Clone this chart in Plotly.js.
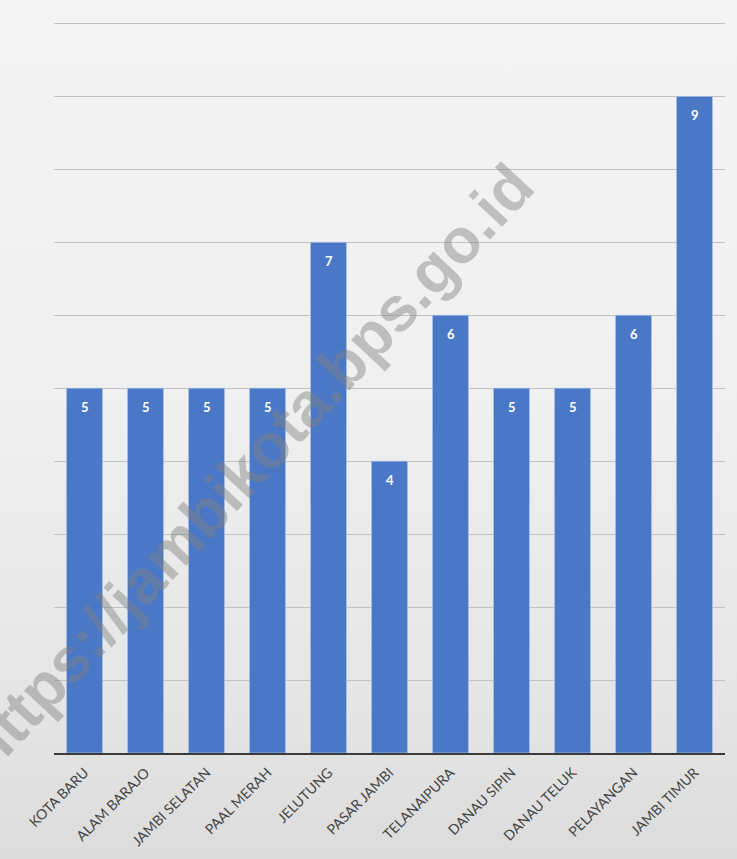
<!DOCTYPE html>
<html>
<head>
<meta charset="utf-8">
<script src="https://cdn.plot.ly/plotly-3.0.1.min.js"></script>
<style>
html,body{margin:0;padding:0;}
#chart{width:737px;height:859px;background:linear-gradient(to bottom,#f4f4f4 0%,#f0f0f0 45%,#e6e6e6 80%,#dcdcdc 100%);}
</style>
</head>
<body>
<div id="chart"></div>
<script>
const categories = ["KOTA BARU","ALAM BARAJO","JAMBI SELATAN","PAAL MERAH","JELUTUNG","PASAR JAMBI","TELANAIPURA","DANAU SIPIN","DANAU TELUK","PELAYANGAN","JAMBI TIMUR"];
const values = [5,5,5,5,7,4,6,5,5,6,9];
const watermark = "https://jambikota.bps.go.id";

const trace = {
  type: 'bar',
  x: categories,
  y: values,
  marker: {color: '#4a78c6', line: {color: 'rgba(170,195,235,0.7)', width: 1}},
  hoverinfo: 'none'
};

const valueLabels = categories.map((c, i) => ({
  x: c, y: values[i], xref: 'x', yref: 'y',
  text: String(values[i]),
  showarrow: false,
  yanchor: 'middle', yshift: -19,
  font: {family: 'Lato', size: 13, color: '#ffffff', weight: 'bold'}
}));

const layout = {
  width: 737, height: 859,
  margin: {l: 54, r: 12, t: 22, b: 106},
  paper_bgcolor: 'rgba(0,0,0,0)',
  plot_bgcolor: 'rgba(0,0,0,0)',
  bargap: 0.41,
  showlegend: false,
  xaxis: {
    type: 'category',
    tickangle: -45,
    ticklabelstandoff: 4,
    tickfont: {family: 'Lato', size: 14, color: '#454545'},
    showline: true, linecolor: '#3a3a3a', linewidth: 2,
    ticks: '', showgrid: false
  },
  yaxis: {
    range: [0, 10.02],
    dtick: 1,
    showticklabels: false,
    showgrid: true, gridcolor: '#c2c2c2', gridwidth: 1,
    zeroline: false, showline: false, ticks: ''
  },
  annotations: valueLabels.concat([{
    text: watermark,
    xref: 'paper', yref: 'paper',
    x: (248 - 54) / 671, y: (753 - 467) / 731,
    xanchor: 'center', yanchor: 'middle',
    textangle: -47,
    showarrow: false,
    font: {family: 'Liberation Sans', size: 63, color: 'rgba(128,128,128,0.45)', weight: 'bold'}
  }])
};

Plotly.newPlot('chart', [trace], layout, {displayModeBar: false, staticPlot: true});
</script>
</body>
</html>
